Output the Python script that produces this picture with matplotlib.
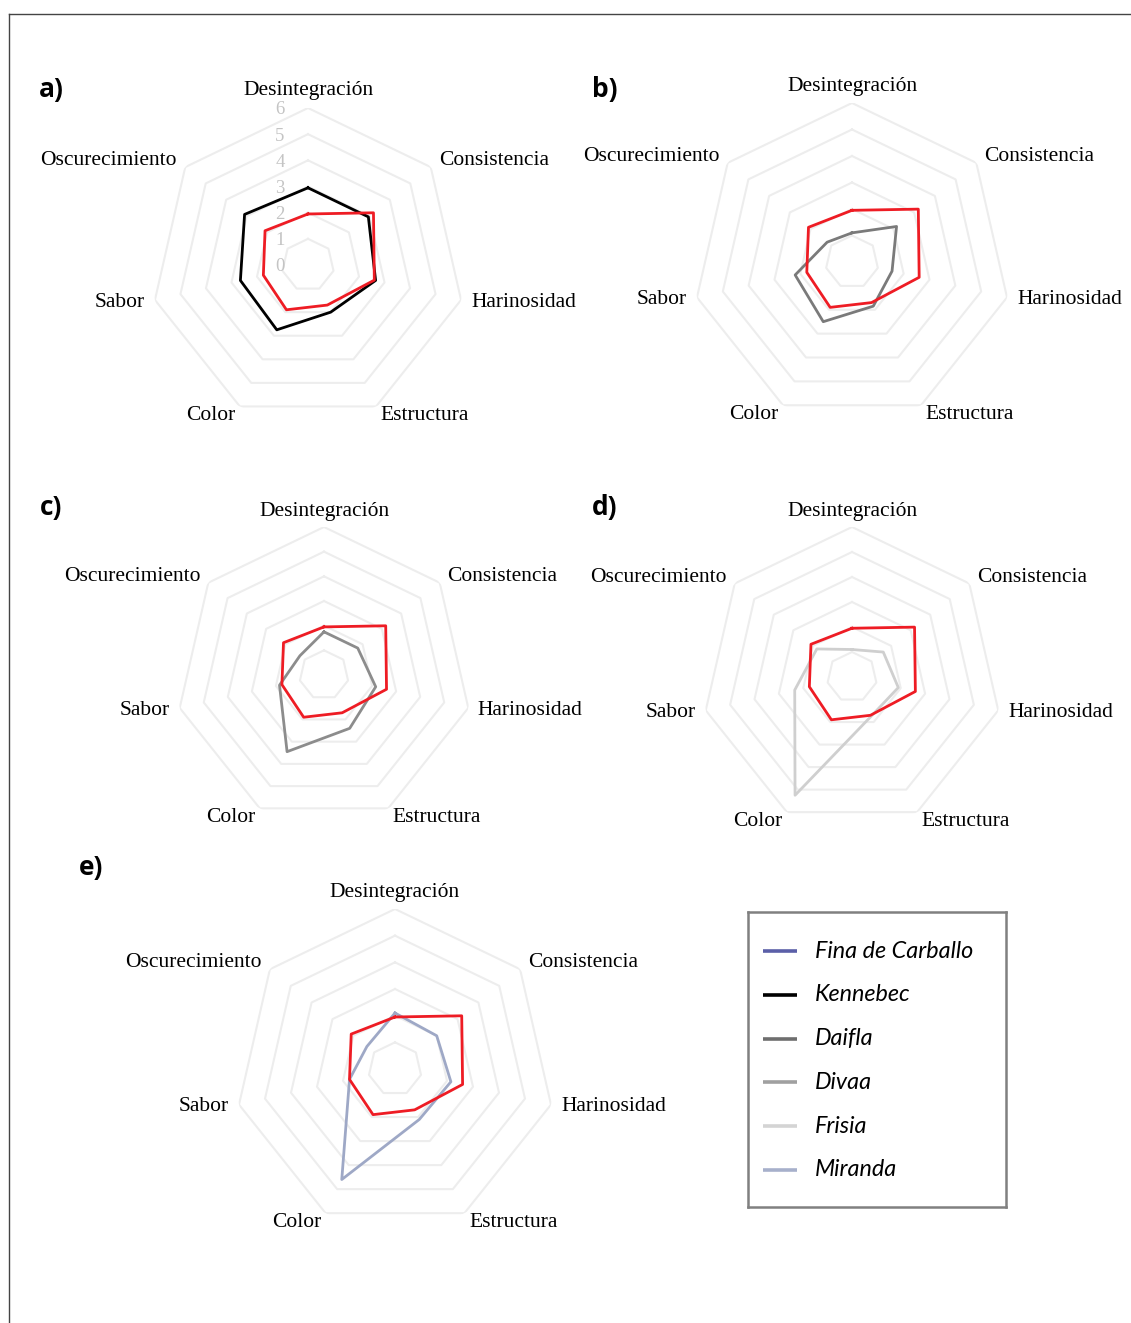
import numpy as np
import matplotlib
matplotlib.use("Agg")
import matplotlib.pyplot as plt
from matplotlib.lines import Line2D

# attributes, clockwise from the top
attributes = ["Desintegración", "Consistencia", "Harinosidad", "Estructura",
              "Color", "Sabor", "Oscurecimiento"]

# reference variety (red in every panel)
fina_de_carballo = [1.95, 3.2, 2.6, 1.7, 1.9, 1.75, 2.1]
kennebec = [2.95, 2.95, 2.65, 2.0, 2.75, 2.65, 3.1]
daifla = [1.1, 2.15, 1.55, 1.85, 2.5, 2.2, 1.2]
divaa = [1.75, 1.75, 2.15, 2.4, 3.45, 1.85, 1.25]
frisia = [1.1, 1.6, 1.9, 1.75, 5.25, 2.35, 1.8]
miranda = [2.1, 2.0, 2.15, 2.1, 4.6, 1.75, 1.35]

legend_names = ["Fina de Carballo", "Kennebec", "Daifla", "Divaa", "Frisia", "Miranda"]
legend_colors = ["#5b5fa8", "#000000", "#6e6e6e", "#a0a0a0", "#d4d4d4", "#a7b0cb"]

ticks = [0, 1, 2, 3, 4, 5, 6]

W, H = 1131, 1323
fig = plt.figure(figsize=(W / 100, H / 100), dpi=100)
fig.patch.set_facecolor("white")

# outer frame (only top and left edges visible)
fig.add_artist(Line2D([9 / W, 9 / W], [0, 1 - 14 / H], transform=fig.transFigure, color="#444444", lw=1))
fig.add_artist(Line2D([9 / W, 1], [1 - 14 / H, 1 - 14 / H], transform=fig.transFigure, color="#444444", lw=1))

serif = "Liberation Serif"
theta = np.arange(len(attributes)) * 2 * np.pi / len(attributes)
theta_c = np.append(theta, theta[0])


def closed(v):
    return np.append(v, v[0])


def radar(cx, cy, r6, letter, lx, ly, other, other_color, show_ticks=False):
    ax = fig.add_axes([(cx - r6) / W, 1 - (cy + r6) / H, 2 * r6 / W, 2 * r6 / H],
                      projection="polar")
    ax.set_theta_offset(np.pi / 2)
    ax.set_theta_direction(-1)
    ax.set_ylim(0, 6)
    ax.set_xticks([])
    ax.set_yticks([])
    ax.grid(False)
    ax.spines["polar"].set_visible(False)
    ax.patch.set_alpha(0)

    for r in ticks[1:]:
        ax.plot(theta_c, [r] * len(theta_c), color="#ededed", lw=1.5, zorder=1)

    ax.plot(theta_c, closed(fina_de_carballo), color="#ee1c24", lw=2.0, zorder=3)
    ax.plot(theta_c, closed(other), color=other_color, lw=2.0, zorder=2)

    for k, (t, name) in enumerate(zip(theta, attributes)):
        if k == 0:
            top_r = 6.68 if show_ticks else 6.62
            ax.text(t, top_r, name, ha="center", va="center", family=serif, fontsize=15.5)
        else:
            ha = "left" if k <= 3 else "right"
            ax.text(t, 6.4, name, ha=ha, va="center", family=serif, fontsize=15.5)

    if show_ticks:
        for r in ticks:
            ax.annotate(str(r), xy=(0, r), xytext=(-28, -2), textcoords="offset pixels",
                        ha="center", va="center", family=serif, fontsize=13.5, color="#c4c4c4")

    fig.text(lx / W, 1 - ly / H, letter, ha="center", va="center",
             family="Open Sans", fontweight="bold", fontsize=19)
    return ax


radar(308, 265, 157, "a)", 51, 90, kennebec, "#000000", show_ticks=True)
radar(852, 262, 159, "b)", 605, 90, daifla, "#7a7a7a")
radar(324, 675, 148, "c)", 51, 508, divaa, "#8c8c8c")
radar(852, 677, 150, "d)", 605, 508, frisia, "#cfcfcf")
radar(395, 1069, 160, "e)", 91, 867, miranda, "#9ea8c6")

# legend box
lx0, ly0, lx1, ly1 = 748, 912, 1006, 1207
leg = fig.add_axes([lx0 / W, 1 - ly1 / H, (lx1 - lx0) / W, (ly1 - ly0) / H])
leg.set_xlim(lx0, lx1)
leg.set_ylim(ly1, ly0)
leg.set_xticks([])
leg.set_yticks([])
for s in leg.spines.values():
    s.set_edgecolor("#808080")
    s.set_linewidth(1.8)
for i, (name, c) in enumerate(zip(legend_names, legend_colors)):
    y = 951 + i * 43.8
    leg.plot([763, 797], [y, y], color=c, lw=2.6, solid_capstyle="butt")
    leg.text(815, y, name, ha="left", va="center", family="Lato", style="italic", fontsize=16.8)

plt.savefig("out.png", dpi=100, facecolor="white")
